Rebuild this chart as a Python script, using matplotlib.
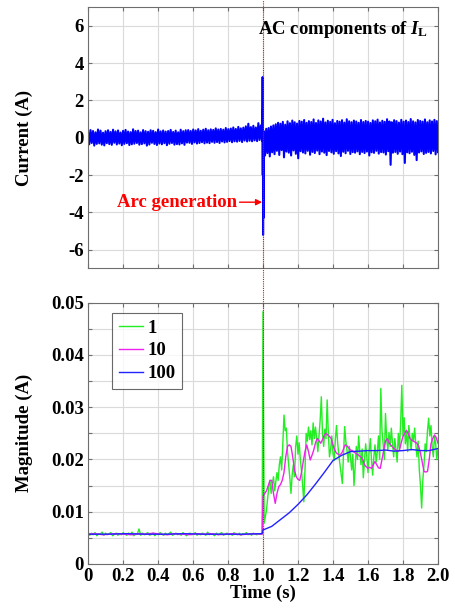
import numpy as np
import matplotlib.pyplot as plt
import matplotlib.transforms as mtransforms
from matplotlib.lines import Line2D

plt.rcParams['font.family'] = ['Liberation Serif', 'DejaVu Serif']
plt.rcParams['font.weight'] = 'bold'
plt.rcParams['axes.unicode_minus'] = False
plt.rcParams['mathtext.fontset'] = 'custom'
plt.rcParams['mathtext.rm'] = 'Liberation Serif:bold'
plt.rcParams['mathtext.it'] = 'Liberation Serif:italic:bold'

# AC component of the load current (A), before and after the arc
il_pre = [0.32, -0.35, 0.41, -0.28, 0.36, -0.42, 0.29, -0.33, 0.44, -0.30, 0.38, -0.37, 0.27, -0.41, 0.35, -0.29, 0.40, -0.34, 0.31, -0.38,
          0.43, -0.27, 0.34, -0.36, 0.39, -0.31, 0.28, -0.40, 0.37, -0.33, 0.42, -0.29, 0.33, -0.39, 0.30, -0.35, 0.45, -0.32, 0.36, -0.28,
          0.38, -0.37, 0.29, -0.34, 0.41, -0.30, 0.35, -0.42, 0.32, -0.36, 0.40, -0.27, 0.37, -0.33, 0.30, -0.39, 0.44, -0.31, 0.34, -0.35,
          0.39, -0.29, 0.33, -0.40, 0.36, -0.32, 0.42, -0.28, 0.31, -0.37, 0.38, -0.34, 0.29, -0.36, 0.43, -0.30, 0.35, -0.38, 0.40, -0.26,
          0.41, -0.27, 0.36, -0.33, 0.44, -0.25, 0.39, -0.31, 0.46, -0.28, 0.37, -0.24, 0.43, -0.30, 0.48, -0.26, 0.40, -0.29, 0.45, -0.22,
          0.42, -0.27, 0.50, -0.23, 0.44, -0.28, 0.47, -0.20, 0.43, -0.25, 0.52, -0.22, 0.46, -0.18, 0.49, -0.24, 0.55, -0.19, 0.47, -0.21,
          0.58, -0.17, 0.50, -0.23, 0.54, -0.15, 0.61, -0.20, 0.75, -0.16, 0.57, -0.19, 0.64, -0.14, 0.55, -0.18, 0.78, -0.12, 0.66, -0.17]
il_arc = [0.5, 3.25, -2.0, 1.5, -5.2, -0.5, -4.3, 0.2, -1.2]
il_post = [0.35, -0.95, 0.48, -0.82, 0.52, -1.00, 0.60, -0.78, 0.66, -0.88, 0.72, -0.70, 0.80, -0.92, 0.75, -0.66, 0.85, -1.05, 0.70, -0.74,
           0.88, -0.80, 0.78, -0.95, 0.92, -0.68, 0.83, -0.86, 0.76, -1.10, 0.90, -0.72, 0.86, -0.79, 0.95, -0.84, 0.80, -0.70, 0.89, -0.91,
           0.84, -0.76, 0.98, -0.82, 0.79, -0.69, 0.93, -0.88, 0.87, -0.74, 1.02, -0.80, 0.82, -0.93, 0.91, -0.71, 0.85, -0.78, 0.96, -0.86,
           0.78, -0.72, 0.90, -0.84, 0.86, -0.98, 0.94, -0.75, 0.81, -0.83, 0.99, -0.70, 0.88, -0.87, 0.83, -0.77, 0.92, -0.80, 0.87, -0.73,
           0.80, -0.88, 0.95, -0.76, 0.84, -0.82, 0.90, -0.74, 0.86, -0.95, 0.79, -0.78, 0.93, -0.81, 0.88, -0.70, 0.97, -0.85, 0.82, -0.77,
           0.91, -0.79, 0.85, -0.90, 0.99, -0.72, 0.87, -1.45, 0.83, -0.80, 0.94, -0.76, 0.89, -0.86, 0.81, -0.74, 0.96, -0.88, 0.86, -1.35,
           0.92, -0.78, 0.84, -0.83, 1.00, -0.75, 0.88, -0.92, 0.82, -1.20, 0.95, -0.79, 0.90, -0.73, 0.86, -0.87, 0.98, -0.81, 0.83, -0.76,
           0.93, -0.84, 0.87, -0.71, 0.96, -0.89, 0.89, -0.77]

# Magnitude estimates for window lengths 1, 10 and 100
mag1_pre = [0.0058, 0.0055, 0.0059, 0.0056, 0.0060, 0.0054, 0.0058, 0.0057, 0.0061, 0.0055, 0.0059, 0.0056, 0.0058, 0.0060, 0.0054, 0.0057, 0.0059, 0.0055, 0.0058, 0.0056,
            0.0060, 0.0057, 0.0055, 0.0059, 0.0056, 0.0061, 0.0054, 0.0058, 0.0057, 0.0067, 0.0055, 0.0059, 0.0056, 0.0058, 0.0060, 0.0055, 0.0057, 0.0059, 0.0054, 0.0058,
            0.0056, 0.0060, 0.0057, 0.0055, 0.0059, 0.0056, 0.0058, 0.0061, 0.0055, 0.0057, 0.0059, 0.0056, 0.0058, 0.0055, 0.0060, 0.0057, 0.0054, 0.0058, 0.0059, 0.0056,
            0.0057, 0.0060, 0.0055, 0.0058, 0.0056, 0.0059, 0.0057, 0.0055, 0.0061, 0.0056, 0.0058, 0.0057, 0.0054, 0.0059, 0.0056, 0.0058, 0.0060, 0.0055, 0.0057, 0.0059,
            0.0056, 0.0058, 0.0055, 0.0060, 0.0057, 0.0056, 0.0059, 0.0055, 0.0058, 0.0057, 0.0060, 0.0056, 0.0058, 0.0055, 0.0059, 0.0057, 0.0056, 0.0058, 0.0057, 0.0059]
mag1_post = [0.0483, 0.0078, 0.0090, 0.0103, 0.0125, 0.0148, 0.0160, 0.0135, 0.0152, 0.0167, 0.0140, 0.0158, 0.0175, 0.0160, 0.0190, 0.0205, 0.0180, 0.0230, 0.0285, 0.0255,
             0.0260, 0.0215, 0.0190, 0.0165, 0.0135, 0.0170, 0.0190, 0.0167, 0.0225, 0.0245, 0.0210, 0.0232, 0.0200, 0.0178, 0.0150, 0.0119, 0.0180, 0.0250, 0.0235, 0.0262,
             0.0238, 0.0255, 0.0228, 0.0270, 0.0240, 0.0262, 0.0240, 0.0215, 0.0245, 0.0275, 0.0320, 0.0250, 0.0225, 0.0258, 0.0240, 0.0314, 0.0250, 0.0205, 0.0220, 0.0245,
             0.0212, 0.0198, 0.0238, 0.0265, 0.0232, 0.0208, 0.0190, 0.0173, 0.0154, 0.0210, 0.0263, 0.0235, 0.0218, 0.0195, 0.0225, 0.0205, 0.0180, 0.0210, 0.0150, 0.0185,
             0.0225, 0.0200, 0.0245, 0.0215, 0.0190, 0.0220, 0.0165, 0.0198, 0.0230, 0.0205, 0.0175, 0.0215, 0.0240, 0.0200, 0.0170, 0.0205, 0.0228, 0.0195, 0.0215, 0.0245,
             0.0200, 0.0336, 0.0255, 0.0230, 0.0200, 0.0288, 0.0240, 0.0218, 0.0252, 0.0225, 0.0260, 0.0232, 0.0205, 0.0240, 0.0218, 0.0195, 0.0250, 0.0222, 0.0270, 0.0342,
             0.0245, 0.0280, 0.0230, 0.0255, 0.0215, 0.0265, 0.0240, 0.0218, 0.0250, 0.0235, 0.0260, 0.0228, 0.0205, 0.0235, 0.0180, 0.0150, 0.0107, 0.0160, 0.0190, 0.0230,
             0.0215, 0.0255, 0.0279, 0.0245, 0.0265, 0.0225, 0.0205, 0.0245, 0.0230, 0.0200, 0.0220]
mag10_pre = [0.0057, 0.0058, 0.0056, 0.0057, 0.0058, 0.0057, 0.0056, 0.0058, 0.0057, 0.0059, 0.0057, 0.0056, 0.0058, 0.0057, 0.0056, 0.0058, 0.0057, 0.0058, 0.0056, 0.0057,
             0.0058, 0.0056, 0.0057, 0.0058, 0.0057]
mag10_post = [0.0129, 0.0135, 0.0140, 0.0150, 0.0160, 0.0160, 0.0135, 0.0116, 0.0135, 0.0148, 0.0152, 0.0160, 0.0175, 0.0205, 0.0225, 0.0228, 0.0225, 0.0205, 0.0180, 0.0167,
              0.0162, 0.0160, 0.0175, 0.0196, 0.0215, 0.0228, 0.0215, 0.0199, 0.0208, 0.0218, 0.0232, 0.0240, 0.0236, 0.0231, 0.0238, 0.0246, 0.0250, 0.0247, 0.0244, 0.0240,
              0.0228, 0.0218, 0.0212, 0.0210, 0.0209, 0.0212, 0.0220, 0.0228, 0.0226, 0.0222, 0.0218, 0.0217, 0.0214, 0.0212, 0.0210, 0.0207, 0.0205, 0.0200, 0.0190, 0.0186,
              0.0183, 0.0185, 0.0183, 0.0190, 0.0196, 0.0190, 0.0184, 0.0183, 0.0200, 0.0218, 0.0235, 0.0240, 0.0232, 0.0228, 0.0224, 0.0221, 0.0218, 0.0215, 0.0218, 0.0232,
              0.0244, 0.0250, 0.0256, 0.0250, 0.0240, 0.0237, 0.0235, 0.0233, 0.0231, 0.0225, 0.0212, 0.0195, 0.0177, 0.0176, 0.0177, 0.0200, 0.0230, 0.0240, 0.0247, 0.0242,
              0.0231]
mag100_pre = [0.0057, 0.0057, 0.0058, 0.0057, 0.0057, 0.0058, 0.0057, 0.0057, 0.0057, 0.0058]
mag100_post = [0.0065, 0.0072, 0.0085, 0.0098, 0.0114, 0.0132, 0.0153, 0.0175, 0.0198, 0.0208, 0.0215, 0.0216, 0.0217, 0.0217, 0.0218,
               0.0216, 0.0217, 0.0219, 0.0217, 0.0217, 0.0221]

x_ticks = [0, 0.2, 0.4, 0.6, 0.8, 1.0, 1.2, 1.4, 1.6, 1.8, 2.0]
x_labels = ['0', '0.2', '0.4', '0.6', '0.8', '1.0', '1.2', '1.4', '1.6', '1.8', '2.0']
y_top_ticks = [-6, -4, -2, 0, 2, 4, 6]
y_bot_ticks = [0, 0.005, 0.01, 0.015, 0.02, 0.025, 0.03, 0.035, 0.04, 0.045, 0.05]
y_bot_labels = ['0', '', '0.01', '', '0.02', '', '0.03', '', '0.04', '', '0.05']


def join(pre, post, arc=None):
    # sample times: pre-fault part up to 0.995 s, post-fault part from 1.0 s
    t_pre = np.linspace(0, 0.995, len(pre))
    parts_t = [t_pre]
    parts_y = [pre]
    if arc is not None:
        parts_t.append(np.linspace(0.997, 1.004, len(arc)))
        parts_y.append(arc)
        parts_t.append(np.linspace(1.005, 2.0, len(post)))
    else:
        parts_t.append(np.linspace(1.0, 2.0, len(post)))
    parts_y.append(post)
    return np.concatenate(parts_t), np.concatenate(parts_y)


fig = plt.figure(figsize=(4.55, 6.08), dpi=100)
ax1 = fig.add_axes([0.1934, 0.5584, 0.7692, 0.4301])
ax2 = fig.add_axes([0.1934, 0.0724, 0.7692, 0.4297])

edge = '#6e6e6e'
for ax in (ax1, ax2):
    ax.set_xlim(0, 2.0)
    ax.set_xticks(x_ticks)
    ax.grid(True, color='#dadada', lw=0.8)
    ax.set_axisbelow(True)
    ax.tick_params(direction='in', length=3, width=0.8, color=edge, top=True, right=True,
                   labelsize=13.5, pad=3)
    for s in ax.spines.values():
        s.set_color(edge)
        s.set_linewidth(0.8)

# current waveform
t, il = join(il_pre, il_post, il_arc)
ax1.plot(t, il, color='#0000ff', lw=1.5)
ax1.set_ylim(-7, 7)
ax1.set_yticks(y_top_ticks)
ax1.set_xticklabels([])
ax1.set_ylabel('Current (A)', fontsize=13.5, fontweight='bold')
ax1.yaxis.set_label_coords(-0.157, 0.5)
ax1.text(1.945, 5.8, r'AC components of $\mathit{I}_{\mathrm{L}}$', ha='right', va='center',
         fontsize=13.5, fontweight='bold')
ax1.annotate('Arc generation', xy=(0.995, -3.45), xytext=(0.85, -3.45), color='red',
             fontsize=13.5, fontweight='bold', ha='right', va='center',
             arrowprops=dict(arrowstyle='-|>', color='red', lw=1, shrinkA=0, shrinkB=0,
                             mutation_scale=9))

# magnitude estimates
for pre, post, c, lab in [(mag1_pre, mag1_post, '#22ee22', '1'),
                          (mag10_pre, mag10_post, '#ee22ee', '10'),
                          (mag100_pre, mag100_post, '#2222ff', '100')]:
    tt, yy = join(pre, post)
    ax2.plot(tt, yy, color=c, lw=1.0, label=lab)
ax2.set_ylim(0, 0.05)
ax2.set_yticks(y_bot_ticks)
ax2.set_yticklabels(y_bot_labels)
ax2.set_xticklabels(x_labels)
ax2.set_ylabel('Magnitude (A)', fontsize=13.5, fontweight='bold')
ax2.yaxis.set_label_coords(-0.157, 0.5)
ax2.set_xlabel('Time (s)', fontsize=13.5, fontweight='bold', labelpad=0)
leg = ax2.legend(loc='upper left', bbox_to_anchor=(0.069, 0.961), fontsize=13.5, frameon=True,
                 fancybox=False, edgecolor='#444444', handlelength=1.3, borderpad=0.35,
                 labelspacing=0.3, handletextpad=0.25, borderaxespad=0)
leg.get_frame().set_linewidth(0.8)

# dotted marker of the arc instant through both panels
trans = mtransforms.blended_transform_factory(ax2.transData, fig.transFigure)
fig.add_artist(Line2D([1.0, 1.0], [0.072, 1.0], transform=trans, color='red', lw=0.8,
                      ls=(0, (1, 1)), zorder=10))

fig.savefig('out.png', dpi=100)
